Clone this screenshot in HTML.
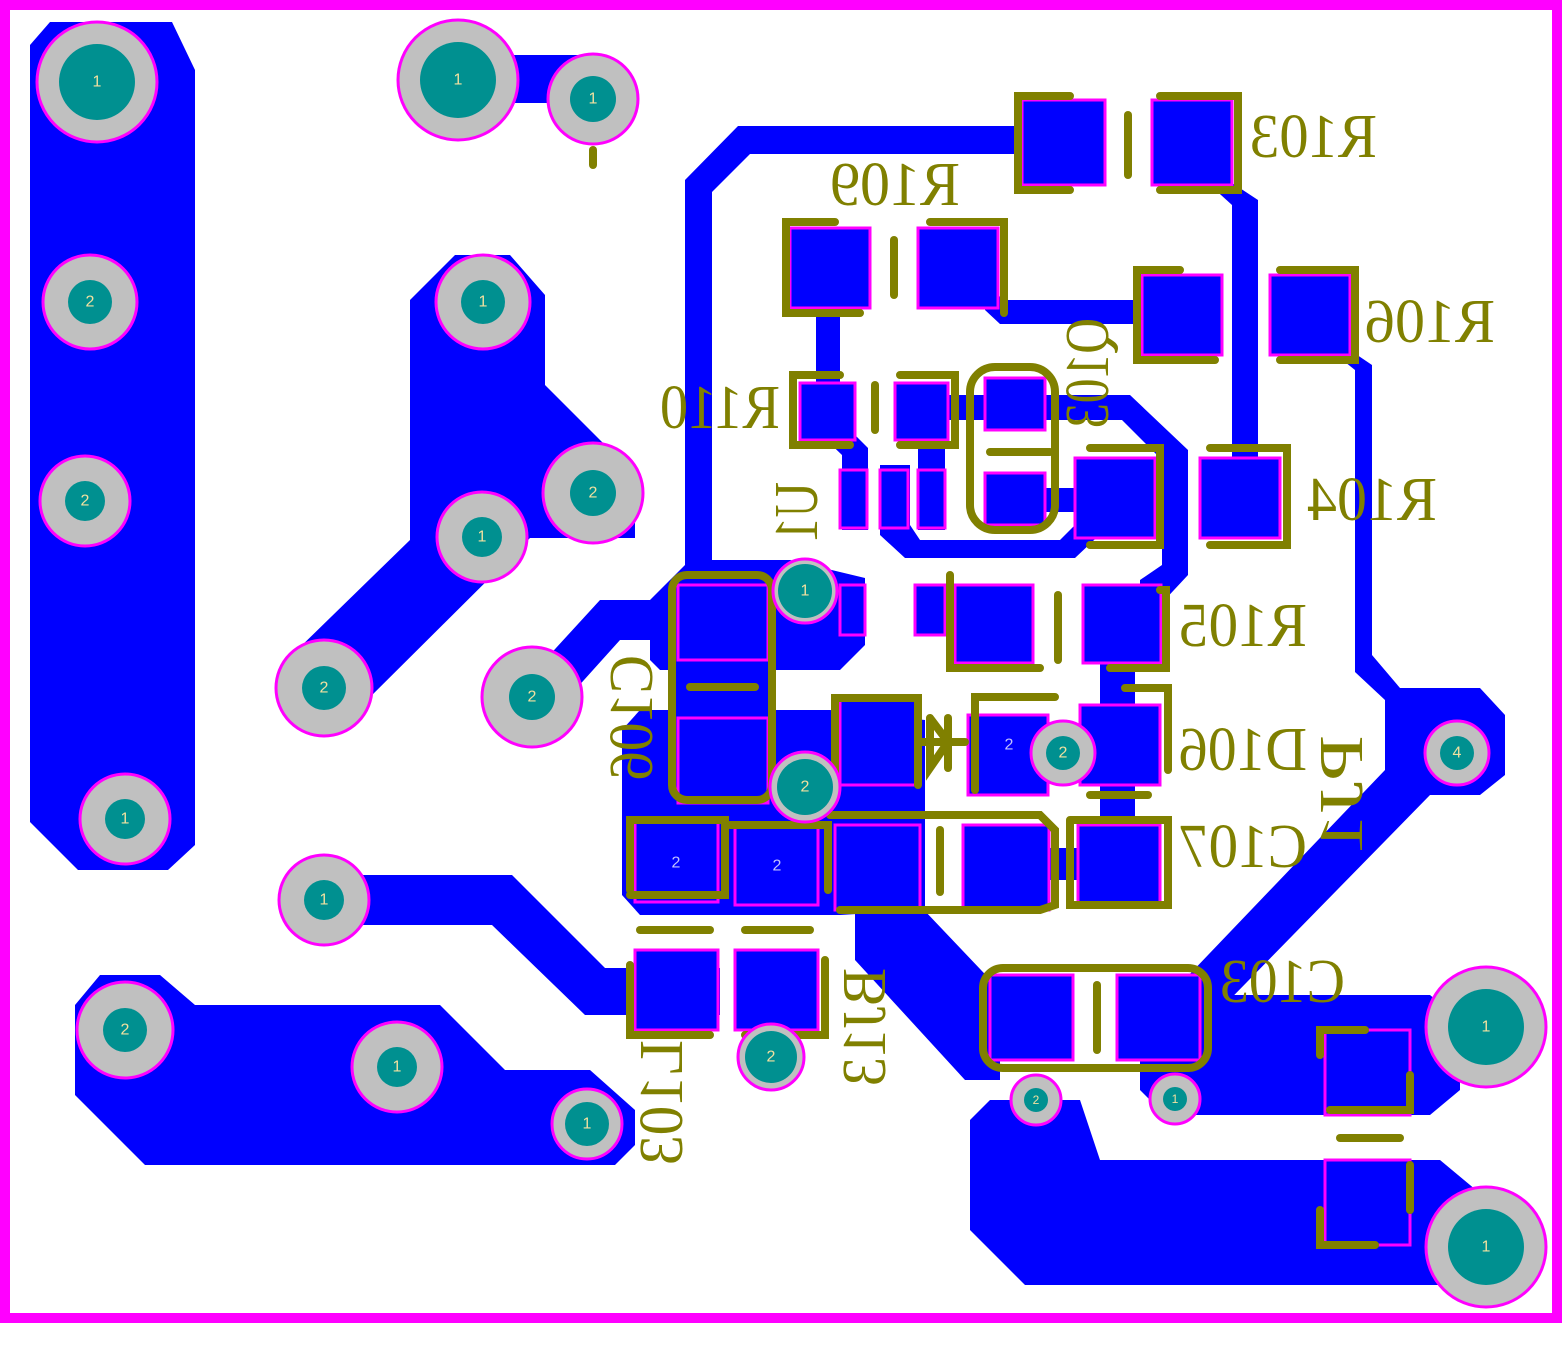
<!DOCTYPE html>
<html><head><meta charset="utf-8"><style>
html,body{margin:0;padding:0;background:#fff}
svg{display:block}
text{font-family:"Liberation Serif",serif;fill:#808000}
.pl{font-family:"Liberation Sans",sans-serif;font-size:16px;fill:#f0e0a0;text-anchor:middle;dominant-baseline:central}
.pb{font-family:"Liberation Sans",sans-serif;font-size:16px;fill:#c0c0ff;text-anchor:middle;dominant-baseline:central}
</style></head><body>
<svg width="1564" height="1359" viewBox="0 0 1564 1359" xmlns="http://www.w3.org/2000/svg">
<rect width="1564" height="1359" fill="#fff"/>
<g fill="#0000ff" stroke="none">
<polygon points="50,22 172,22 195,70 195,845 168,870 78,870 30,822 30,45"/>
<rect x="458" y="55" width="135" height="48"/>
<polygon points="410,300 455,255 510,255 545,295 545,385 605,445 635,475 635,538 530,538 355,712 292,655 410,540"/>
<polygon points="545,660 600,600 700,600 700,640 620,640 575,690"/>
<polygon points="75,1005 100,975 160,975 195,1005 440,1005 505,1070 590,1070 635,1110 635,1145 615,1165 145,1165 75,1095"/>
<polygon points="324,875 512,875 605,968 720,968 720,1015 585,1015 492,925 324,925"/>
<polygon points="685,180 738,126 1025,126 1025,154 750,154 712,192 712,610 685,610"/>
<polygon points="650,600 690,560 790,560 865,578 865,645 840,670 660,670 650,660"/>
<polygon points="622,730 640,710 830,710 925,720 925,910 840,915 640,915 622,895"/>
<rect x="676" y="575" width="100" height="230"/>
<polygon points="1220,175 1258,200 1258,460 1232,460 1232,205 1210,185"/>
<polygon points="985,290 1008,300 1145,300 1145,324 1000,324 985,310"/>
<polygon points="1335,340 1372,365 1372,655 1400,688 1480,688 1505,715 1505,775 1480,795 1430,795 1200,1030 1165,1000 1385,770 1385,700 1355,672 1355,370 1330,350"/>
<polygon points="816,300 840,300 840,420 868,448 868,530 842,530 842,455 816,430"/>
<polygon points="918,395 1130,395 1188,450 1188,575 1160,605 1140,605 1140,580 1162,565 1162,460 1122,420 945,420 945,530 918,530"/>
<polygon points="880,465 910,465 910,525 920,540 1060,540 1085,515 1085,490 1110,490 1110,525 1075,558 905,558 880,535"/>
<rect x="985" y="488" width="110" height="24"/>
<rect x="915" y="585" width="35" height="50"/>
<rect x="1100" y="640" width="35" height="180"/>
<polygon points="855,780 905,780 905,890 1000,990 1000,1080 965,1080 855,960"/>
<rect x="1040" y="848" width="50" height="32"/>
<polygon points="1140,995 1430,995 1460,1020 1460,1090 1430,1115 1165,1115 1140,1090"/>
<polygon points="990,1100 1080,1100 1100,1160 1440,1160 1500,1210 1500,1285 1025,1285 970,1230 970,1120"/>
</g>
<g fill="#0000ff" stroke="#ff00ff" stroke-width="3">
<rect x="1022" y="100" width="83" height="85"/><rect x="1152" y="100" width="80" height="85"/>
<rect x="790" y="228" width="80" height="80"/><rect x="918" y="228" width="80" height="80"/>
<rect x="1142" y="275" width="80" height="80"/><rect x="1270" y="275" width="80" height="80"/>
<rect x="800" y="383" width="55" height="57"/><rect x="895" y="383" width="53" height="57"/>
<rect x="985" y="378" width="60" height="52"/><rect x="985" y="473" width="60" height="52"/>
<rect x="840" y="470" width="27" height="58"/><rect x="880" y="470" width="28" height="58"/><rect x="918" y="470" width="27" height="58"/>
<rect x="1075" y="458" width="80" height="80"/><rect x="1200" y="458" width="80" height="80"/>
<rect x="955" y="585" width="78" height="78"/><rect x="1083" y="585" width="78" height="78"/>
<rect x="915" y="585" width="30" height="50"/><rect x="840" y="585" width="25" height="50"/>
<rect x="678" y="585" width="90" height="75"/><rect x="678" y="718" width="90" height="85"/>
<rect x="840" y="700" width="80" height="85"/><rect x="968" y="715" width="80" height="80"/>
<rect x="1080" y="705" width="80" height="80"/>
<rect x="635" y="822" width="83" height="80"/><rect x="735" y="825" width="83" height="80"/>
<rect x="835" y="825" width="85" height="85"/><rect x="963" y="825" width="86" height="85"/><rect x="1078" y="825" width="82" height="80"/>
<rect x="635" y="950" width="83" height="80"/><rect x="735" y="950" width="83" height="80"/>
<rect x="990" y="975" width="83" height="85"/><rect x="1117" y="975" width="83" height="85"/>
<rect x="1325" y="1030" width="85" height="85" fill="none"/><rect x="1325" y="1160" width="85" height="85" fill="none"/>
</g>
<g><text class="pb" x="676" y="863">2</text><text class="pb" x="777" y="866">2</text><text class="pb" x="1009" y="745">2</text></g>
<g fill="none" stroke="#808000" stroke-width="8" stroke-linecap="round">
<polyline points="1070,96 1018,96 1018,190 1070,190"/><polyline points="1160,96 1238,96 1238,190 1160,190"/>
<line x1="1128" y1="115" x2="1128" y2="175"/>
<polyline points="835,222 786,222 786,313 860,313"/><polyline points="930,222 1004,222 1004,313"/>
<line x1="894" y1="240" x2="894" y2="295"/>
<polyline points="1180,270 1137,270 1137,360 1215,360"/><polyline points="1280,270 1355,270 1355,360 1280,360"/>
<polyline points="840,375 793,375 793,445 850,445"/><polyline points="900,375 955,375 955,445 900,445"/>
<line x1="875" y1="385" x2="875" y2="430"/>
<rect x="970" y="367" width="85" height="163" rx="25"/>
<line x1="990" y1="452" x2="1050" y2="452"/>
<polyline points="1090,448 1160,448 1160,545 1090,545"/><polyline points="1210,448 1287,448 1287,545 1210,545"/>
<polyline points="950,575 950,668 1040,668"/><polyline points="1160,590 1166,590 1166,668 1110,668"/><line x1="1058" y1="595" x2="1058" y2="660"/>
<rect x="672" y="575" width="100" height="225" rx="15"/><line x1="690" y1="687" x2="755" y2="687"/>
<polyline points="835,790 835,698 918,698 918,785"/><polyline points="975,790 975,697 1055,697"/>
<polyline points="1125,688 1168,688 1168,770"/>
<line x1="1090" y1="795" x2="1148" y2="795"/>
<line x1="920" y1="742" x2="965" y2="742"/><line x1="948" y1="718" x2="948" y2="768"/>
<polyline points="930,718 930,768 948,742 930,718"/>
<polyline points="1070,820 1168,820 1168,905 1070,905 1070,820"/>
<polyline points="830,815 1040,815 1055,830 1055,905 1040,910 840,910"/>
<line x1="940" y1="830" x2="940" y2="892"/>
<polyline points="630,890 630,820 725,820 725,895 630,895"/><polyline points="730,825 828,825 828,890"/>
<line x1="640" y1="930" x2="710" y2="930"/><line x1="745" y1="930" x2="810" y2="930"/>
<polyline points="630,965 630,1035 710,1035"/><polyline points="825,960 825,1035 745,1035"/>
<rect x="983" y="968" width="225" height="100" rx="20"/><line x1="1097" y1="985" x2="1097" y2="1050"/>
<polyline points="1365,1030 1320,1030 1320,1055"/><polyline points="1410,1075 1410,1110 1330,1110"/>
<line x1="1340" y1="1138" x2="1400" y2="1138"/>
<polyline points="1320,1210 1320,1245 1375,1245"/><polyline points="1410,1165 1410,1210"/>
<line x1="593" y1="150" x2="593" y2="165"/>
</g>
<g stroke="#ff00ff" stroke-width="3">
<g fill="#c0c0c0">
<circle cx="97" cy="82" r="60"/><circle cx="458" cy="80" r="60"/><circle cx="593" cy="99" r="45"/>
<circle cx="90" cy="302" r="47"/><circle cx="483" cy="302" r="47"/><circle cx="593" cy="493" r="50"/>
<circle cx="85" cy="501" r="45"/><circle cx="482" cy="537" r="45"/><circle cx="324" cy="688" r="48"/>
<circle cx="532" cy="697" r="50"/><circle cx="125" cy="819" r="45"/><circle cx="324" cy="900" r="45"/>
<circle cx="125" cy="1030" r="48"/><circle cx="397" cy="1067" r="45"/><circle cx="587" cy="1124" r="35"/>
<circle cx="805" cy="591" r="32"/><circle cx="805" cy="787" r="35"/><circle cx="1063" cy="753" r="32"/>
<circle cx="771" cy="1057" r="33"/><circle cx="1036" cy="1100" r="25"/><circle cx="1175" cy="1099" r="25"/>
<circle cx="1457" cy="753" r="32"/><circle cx="1486" cy="1027" r="60"/><circle cx="1486" cy="1247" r="60"/>
</g></g>
<g fill="#009090">
<circle cx="97" cy="82" r="38"/><circle cx="458" cy="80" r="38"/><circle cx="593" cy="99" r="23"/>
<circle cx="90" cy="302" r="22"/><circle cx="483" cy="302" r="22"/><circle cx="593" cy="493" r="23"/>
<circle cx="85" cy="501" r="20"/><circle cx="482" cy="537" r="20"/><circle cx="324" cy="688" r="22"/>
<circle cx="532" cy="697" r="23"/><circle cx="125" cy="819" r="20"/><circle cx="324" cy="900" r="20"/>
<circle cx="125" cy="1030" r="22"/><circle cx="397" cy="1067" r="20"/><circle cx="587" cy="1124" r="22"/>
<circle cx="805" cy="591" r="27"/><circle cx="805" cy="787" r="28"/><circle cx="1063" cy="753" r="17"/>
<circle cx="771" cy="1057" r="26"/><circle cx="1036" cy="1100" r="12"/><circle cx="1175" cy="1099" r="12"/>
<circle cx="1457" cy="753" r="17"/><circle cx="1486" cy="1027" r="38"/><circle cx="1486" cy="1247" r="38"/>
</g>
<g>
<text class="pl" x="97" y="82">1</text><text class="pl" x="458" y="80">1</text><text class="pl" x="593" y="99">1</text>
<text class="pl" x="90" y="302">2</text><text class="pl" x="483" y="302">1</text><text class="pl" x="593" y="493">2</text>
<text class="pl" x="85" y="501">2</text><text class="pl" x="482" y="537">1</text><text class="pl" x="324" y="688">2</text>
<text class="pl" x="532" y="697">2</text><text class="pl" x="125" y="819">1</text><text class="pl" x="324" y="900">1</text>
<text class="pl" x="125" y="1030">2</text><text class="pl" x="397" y="1067">1</text><text class="pl" x="587" y="1124">1</text>
<text class="pl" x="805" y="591">1</text><text class="pl" x="805" y="787">2</text><text class="pl" x="1063" y="753">2</text>
<text class="pl" x="771" y="1057">2</text><text class="pl" x="1036" y="1100" style="font-size:12px">2</text><text class="pl" x="1175" y="1099" style="font-size:12px">1</text>
<text class="pl" x="1457" y="753">4</text><text class="pl" x="1486" y="1027">1</text><text class="pl" x="1486" y="1247">1</text>
</g>
<g style="font-size:62px">
<text transform="translate(1377,157) scale(-1,1)" textLength="127" lengthAdjust="spacingAndGlyphs">R103</text>
<text transform="translate(960,205) scale(-1,1)" textLength="130" lengthAdjust="spacingAndGlyphs">R109</text>
<text transform="translate(1495,342) scale(-1,1)" textLength="130" lengthAdjust="spacingAndGlyphs">R106</text>
<text transform="translate(780,428) scale(-1,1)" textLength="120" lengthAdjust="spacingAndGlyphs">R110</text>
<text transform="translate(1437,520) scale(-1,1)" textLength="130" lengthAdjust="spacingAndGlyphs">R104</text>
<text transform="translate(1307,646) scale(-1,1)" textLength="128" lengthAdjust="spacingAndGlyphs">R105</text>
<text transform="translate(1307,770) scale(-1,1)" textLength="128" lengthAdjust="spacingAndGlyphs">D106</text>
<text transform="translate(1307,867) scale(-1,1)" textLength="128" lengthAdjust="spacingAndGlyphs">C107</text>
<text transform="translate(1345,1002) scale(-1,1)" textLength="125" lengthAdjust="spacingAndGlyphs">C103</text>
<text transform="translate(652,655) rotate(90) scale(1,-1)" textLength="125" lengthAdjust="spacingAndGlyphs">C106</text>
<text transform="translate(682,1040) rotate(90) scale(1,-1)" textLength="125" lengthAdjust="spacingAndGlyphs">L103</text>
<text transform="translate(885,968) rotate(90) scale(1,-1)" textLength="118" lengthAdjust="spacingAndGlyphs">BJ13</text>
<text transform="translate(817,482) rotate(90) scale(1,-1)" textLength="60" lengthAdjust="spacingAndGlyphs">U1</text>
<text transform="translate(1108,318) rotate(90) scale(1,-1)" textLength="110" lengthAdjust="spacingAndGlyphs">Q103</text>
<text transform="translate(1362,735) rotate(90) scale(1,-1)" textLength="120" lengthAdjust="spacingAndGlyphs">PJ1</text>
</g>
<rect x="5" y="5" width="1552" height="1313" fill="none" stroke="#ff00ff" stroke-width="10"/>
</svg>
</body></html>
